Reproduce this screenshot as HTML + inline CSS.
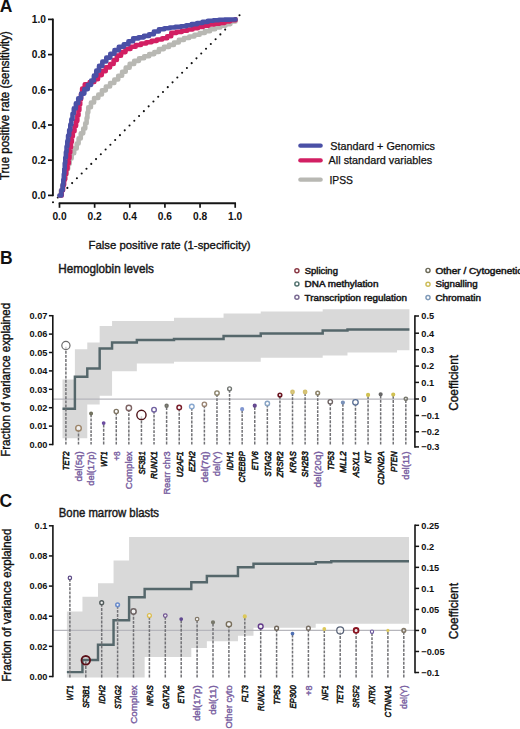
<!DOCTYPE html>
<html><head><meta charset="utf-8"><title>Figure</title>
<style>
html,body{margin:0;padding:0;background:#fff;width:520px;height:729px;overflow:hidden;}
svg{display:block;}
text{font-family:"Liberation Sans", sans-serif;}
</style></head><body>
<svg width="520" height="729" viewBox="0 0 520 729">
<rect x="0" y="0" width="520" height="729" fill="#fff"/>
<text x="-0.20" y="12.20" font-size="17.5" fill="#111" font-weight="bold">A</text>
<line x1="52.90" y1="18.60" x2="52.90" y2="196.20" stroke="#151515" stroke-width="1.9"/>
<line x1="48.00" y1="195.40" x2="52.90" y2="195.40" stroke="#151515" stroke-width="1.7"/>
<text x="45.90" y="199.10" font-size="10.2" fill="#111" font-weight="bold" text-anchor="end">0.0</text>
<line x1="48.00" y1="160.20" x2="52.90" y2="160.20" stroke="#151515" stroke-width="1.7"/>
<text x="45.90" y="163.90" font-size="10.2" fill="#111" font-weight="bold" text-anchor="end">0.2</text>
<line x1="48.00" y1="125.00" x2="52.90" y2="125.00" stroke="#151515" stroke-width="1.7"/>
<text x="45.90" y="128.70" font-size="10.2" fill="#111" font-weight="bold" text-anchor="end">0.4</text>
<line x1="48.00" y1="89.80" x2="52.90" y2="89.80" stroke="#151515" stroke-width="1.7"/>
<text x="45.90" y="93.50" font-size="10.2" fill="#111" font-weight="bold" text-anchor="end">0.6</text>
<line x1="48.00" y1="54.60" x2="52.90" y2="54.60" stroke="#151515" stroke-width="1.7"/>
<text x="45.90" y="58.30" font-size="10.2" fill="#111" font-weight="bold" text-anchor="end">0.8</text>
<line x1="48.00" y1="19.40" x2="52.90" y2="19.40" stroke="#151515" stroke-width="1.7"/>
<text x="45.90" y="23.10" font-size="10.2" fill="#111" font-weight="bold" text-anchor="end">1.0</text>
<line x1="58.70" y1="203.20" x2="236.00" y2="203.20" stroke="#151515" stroke-width="1.9"/>
<line x1="59.50" y1="203.20" x2="59.50" y2="207.80" stroke="#151515" stroke-width="1.7"/>
<text x="59.50" y="219.90" font-size="10.2" fill="#111" font-weight="bold" text-anchor="middle">0.0</text>
<line x1="94.64" y1="203.20" x2="94.64" y2="207.80" stroke="#151515" stroke-width="1.7"/>
<text x="94.64" y="219.90" font-size="10.2" fill="#111" font-weight="bold" text-anchor="middle">0.2</text>
<line x1="129.78" y1="203.20" x2="129.78" y2="207.80" stroke="#151515" stroke-width="1.7"/>
<text x="129.78" y="219.90" font-size="10.2" fill="#111" font-weight="bold" text-anchor="middle">0.4</text>
<line x1="164.92" y1="203.20" x2="164.92" y2="207.80" stroke="#151515" stroke-width="1.7"/>
<text x="164.92" y="219.90" font-size="10.2" fill="#111" font-weight="bold" text-anchor="middle">0.6</text>
<line x1="200.06" y1="203.20" x2="200.06" y2="207.80" stroke="#151515" stroke-width="1.7"/>
<text x="200.06" y="219.90" font-size="10.2" fill="#111" font-weight="bold" text-anchor="middle">0.8</text>
<line x1="235.20" y1="203.20" x2="235.20" y2="207.80" stroke="#151515" stroke-width="1.7"/>
<text x="235.20" y="219.90" font-size="10.2" fill="#111" font-weight="bold" text-anchor="middle">1.0</text>
<text x="9.00" y="105.60" font-size="12.2" fill="#111" stroke="#111" stroke-width="0.35" text-anchor="middle" textLength="149.00" lengthAdjust="spacingAndGlyphs" transform="rotate(-90 9.00 105.60)">True positive rate (sensitivity)</text>
<text x="169.60" y="248.60" font-size="11.8" fill="#111" stroke="#111" stroke-width="0.35" text-anchor="middle" textLength="162.00" lengthAdjust="spacingAndGlyphs">False positive rate (1-specificity)</text>
<line x1="53.0" y1="202.3" x2="239.6" y2="15.1" stroke="#111" stroke-width="2.1" stroke-linecap="round" stroke-dasharray="0 6.774"/>
<polyline points="59.50,195.50 60.87,195.50 60.87,190.18 62.25,190.18 62.25,184.86 63.63,184.86 63.63,179.54 65.09,179.54 65.09,174.24 66.55,174.24 66.55,168.94 68.07,168.94 68.07,163.66 69.67,163.66 69.67,158.40 71.65,158.40 71.65,153.28 74.16,153.28 74.16,148.41 76.70,148.41 76.70,143.56 78.59,143.56 78.59,138.40 80.78,138.40 80.78,133.37 83.25,133.37 83.25,128.46 85.24,128.46 85.24,123.35 86.62,123.35 86.62,118.03 87.41,118.03 87.41,112.61 88.25,112.61 88.25,107.29 90.93,107.29 90.93,102.49 94.09,102.49 94.09,98.00 98.30,98.00 98.30,94.49 101.93,94.49 101.93,90.37 105.82,90.37 105.82,86.48 110.09,86.48 110.09,83.03 114.33,83.03 114.33,79.57 118.22,79.57 118.22,75.68 122.11,75.68 122.11,71.79 125.70,71.79 125.70,67.64 129.64,67.64 129.64,63.90 134.21,63.90 134.21,60.84 139.04,60.84 139.04,58.28 144.14,58.28 144.14,56.23 149.21,56.23 149.21,54.12 154.29,54.12 154.29,52.02 158.91,52.02 158.91,49.10 163.90,49.10 163.90,46.90 169.01,46.90 169.01,44.89 173.93,44.89 173.93,42.45 178.81,42.45 178.81,39.92 183.97,39.92 183.97,38.07 189.22,38.07 189.22,36.44 194.44,36.44 194.44,34.72 199.65,34.72 199.65,32.98 204.84,32.98 204.84,31.17 210.01,31.17 210.01,29.32 215.16,29.32 215.16,27.40 220.34,27.40 220.34,25.58 225.64,25.58 225.64,24.10 230.42,24.10 230.42,21.50 235.50,21.50 235.50,19.40" fill="none" stroke="#b8b8b3" stroke-width="4.6" stroke-linejoin="round" stroke-linecap="round"/>
<polyline points="60.00,195.50 61.73,195.50 61.73,190.30 63.06,190.30 63.06,185.01 64.07,185.01 64.07,179.62 65.10,179.62 65.10,174.25 66.13,174.25 66.13,168.87 67.52,168.87 67.52,163.57 68.74,163.57 68.74,158.24 69.47,158.24 69.47,152.82 70.21,152.82 70.21,147.39 70.97,147.39 70.97,141.97 71.85,141.97 71.85,136.56 72.82,136.56 72.82,131.17 74.51,131.17 74.51,126.05 76.05,126.05 76.05,120.88 77.34,120.88 77.34,115.56 78.47,115.56 78.47,110.21 79.37,110.21 79.37,104.80 80.19,104.80 80.19,99.39 81.01,99.39 81.01,93.98 82.14,93.98 82.14,88.62 84.77,88.62 84.77,84.33 89.69,84.33 89.69,81.99 94.32,81.99 94.32,79.13 98.01,79.13 98.01,75.09 101.80,75.09 101.80,71.14 105.73,71.14 105.73,67.33 110.08,67.33 110.08,64.00 113.63,64.00 113.63,59.98 116.87,59.98 116.87,55.65 121.05,55.65 121.05,52.12 125.53,52.12 125.53,48.97 130.50,48.97 130.50,46.71 135.69,46.71 135.69,44.99 140.98,44.99 140.98,43.57 146.28,43.57 146.28,42.18 151.59,42.18 151.59,40.85 156.90,40.85 156.90,39.54 162.21,39.54 162.21,38.19 167.18,38.19 167.18,36.24 171.24,36.24 171.24,32.86 176.62,32.86 176.62,31.84 181.98,31.84 181.98,30.73 187.30,30.73 187.30,29.45 192.63,29.45 192.63,28.16 197.94,28.16 197.94,26.86 203.28,26.86 203.28,25.62 208.62,25.62 208.62,24.44 214.04,24.44 214.04,23.65 219.46,23.65 219.46,22.83 224.73,22.83 224.73,21.35 230.10,21.35 230.10,20.31 235.50,20.31 235.50,19.40" fill="none" stroke="#d21f63" stroke-width="4.6" stroke-linejoin="round" stroke-linecap="round"/>
<polyline points="59.50,195.50 61.44,195.50 61.44,190.32 62.69,190.32 62.69,184.96 63.34,184.96 63.34,179.47 63.84,179.47 63.84,173.96 64.32,173.96 64.32,168.45 64.77,168.45 64.77,162.93 65.29,162.93 65.29,157.43 65.92,157.43 65.92,151.93 66.56,151.93 66.56,146.44 67.33,146.44 67.33,140.95 68.09,140.95 68.09,135.47 69.20,135.47 69.20,130.06 70.30,130.06 70.30,124.63 71.37,124.63 71.37,119.20 72.52,119.20 72.52,113.79 73.81,113.79 73.81,108.42 75.88,108.42 75.88,103.29 78.23,103.29 78.23,98.29 81.13,98.29 81.13,93.61 84.35,93.61 84.35,89.12 87.84,89.12 87.84,84.86 91.17,84.86 91.17,80.46 93.87,80.46 93.87,75.65 96.27,75.65 96.27,70.67 99.03,70.67 99.03,65.90 102.34,65.90 102.34,61.46 106.29,61.46 106.29,57.59 110.31,57.59 110.31,53.79 114.45,53.79 114.45,50.13 118.82,50.13 118.82,46.74 123.75,46.74 123.75,44.23 128.43,44.23 128.43,41.29 133.12,41.29 133.12,38.42 138.55,38.42 138.55,37.35 143.89,37.35 143.89,35.89 149.10,35.89 149.10,34.29 153.86,34.29 153.86,31.55 158.92,31.55 158.92,29.32 164.30,29.32 164.30,28.28 169.78,28.28 169.78,27.53 175.28,27.53 175.28,26.92 180.77,26.92 180.77,26.25 186.21,26.25 186.21,25.22 191.64,25.22 191.64,24.15 197.05,24.15 197.05,23.01 202.47,23.01 202.47,21.88 207.89,21.88 207.89,20.76 213.39,20.76 213.39,20.28 218.91,20.28 218.91,19.82 224.44,19.82 224.44,19.63 229.97,19.63 229.97,19.46 235.50,19.46 235.50,19.40" fill="none" stroke="#4a50a6" stroke-width="4.6" stroke-linejoin="round" stroke-linecap="round"/>
<line x1="300.30" y1="145.70" x2="320.70" y2="145.70" stroke="#4a50a6" stroke-width="4.2" stroke-linecap="round"/>
<text x="330.30" y="149.60" font-size="11" fill="#111" stroke="#111" stroke-width="0.25" textLength="104.70" lengthAdjust="spacingAndGlyphs">Standard + Genomics</text>
<line x1="300.30" y1="160.40" x2="320.70" y2="160.40" stroke="#d21f63" stroke-width="4.2" stroke-linecap="round"/>
<text x="328.60" y="164.30" font-size="11" fill="#111" stroke="#111" stroke-width="0.25" textLength="103.60" lengthAdjust="spacingAndGlyphs">All standard variables</text>
<line x1="300.30" y1="179.70" x2="320.70" y2="179.70" stroke="#b8b8b3" stroke-width="4.2" stroke-linecap="round"/>
<text x="329.50" y="183.60" font-size="11" fill="#111" stroke="#111" stroke-width="0.25" textLength="23.50" lengthAdjust="spacingAndGlyphs">IPSS</text>
<text x="-0.10" y="264.40" font-size="17.5" fill="#111" font-weight="bold">B</text>
<text x="58.30" y="273.10" font-size="12.2" fill="#1a1a1a" stroke="#1a1a1a" stroke-width="0.45" textLength="95.60" lengthAdjust="spacingAndGlyphs">Hemoglobin levels</text>
<text x="10.30" y="379.80" font-size="12.0" fill="#111" stroke="#111" stroke-width="0.35" text-anchor="middle" textLength="154.00" lengthAdjust="spacingAndGlyphs" transform="rotate(-90 10.30 379.80)">Fraction of variance explained</text>
<circle cx="296.9" cy="270.7" r="2.05" fill="#fff" stroke="#8a3844" stroke-width="1.45"/>
<text x="304.80" y="273.80" font-size="9.4" fill="#1a1a1a" stroke="#1a1a1a" stroke-width="0.5" textLength="33.10" lengthAdjust="spacingAndGlyphs">Splicing</text>
<circle cx="296.9" cy="283.9" r="2.05" fill="#fff" stroke="#4f6f6c" stroke-width="1.45"/>
<text x="304.60" y="287.20" font-size="9.4" fill="#1a1a1a" stroke="#1a1a1a" stroke-width="0.5" textLength="73.80" lengthAdjust="spacingAndGlyphs">DNA methylation</text>
<circle cx="296.9" cy="297.2" r="2.05" fill="#fff" stroke="#7a6a92" stroke-width="1.45"/>
<text x="304.60" y="300.50" font-size="9.4" fill="#1a1a1a" stroke="#1a1a1a" stroke-width="0.5" textLength="102.30" lengthAdjust="spacingAndGlyphs">Transcription regulation</text>
<circle cx="428.0" cy="270.4" r="2.05" fill="#fff" stroke="#6c6a58" stroke-width="1.45"/>
<text x="435.40" y="273.80" font-size="9.4" fill="#1a1a1a" stroke="#1a1a1a" stroke-width="0.5" textLength="87.00" lengthAdjust="spacingAndGlyphs">Other / Cytogenetic</text>
<circle cx="428.0" cy="284.2" r="2.05" fill="#fff" stroke="#cdbd5a" stroke-width="1.45"/>
<text x="435.40" y="287.20" font-size="9.4" fill="#1a1a1a" stroke="#1a1a1a" stroke-width="0.5" textLength="42.30" lengthAdjust="spacingAndGlyphs">Signalling</text>
<circle cx="428.0" cy="297.6" r="2.05" fill="#fff" stroke="#7f9ab8" stroke-width="1.45"/>
<text x="435.40" y="300.50" font-size="9.4" fill="#1a1a1a" stroke="#1a1a1a" stroke-width="0.5" textLength="45.50" lengthAdjust="spacingAndGlyphs">Chromatin</text>
<polygon points="62.50,379.50 74.89,379.50 74.89,349.30 87.28,349.30 87.28,342.60 99.67,342.60 99.67,326.00 112.06,326.00 112.06,321.00 124.45,321.00 124.45,321.00 136.84,321.00 136.84,321.00 149.23,321.00 149.23,321.00 161.62,321.00 161.62,321.00 174.01,321.00 174.01,317.80 186.40,317.80 186.40,317.80 198.79,317.80 198.79,317.80 211.18,317.80 211.18,317.80 223.57,317.80 223.57,313.50 235.96,313.50 235.96,313.50 248.35,313.50 248.35,313.50 260.74,313.50 260.74,311.50 273.13,311.50 273.13,311.50 285.52,311.50 285.52,311.50 297.91,311.50 297.91,311.50 310.30,311.50 310.30,311.50 322.69,311.50 322.69,309.20 335.08,309.20 335.08,309.20 347.47,309.20 347.47,309.20 359.86,309.20 359.86,309.20 372.25,309.20 372.25,309.20 384.64,309.20 384.64,309.20 397.03,309.20 397.03,309.20 409.42,309.20 409.42,350.30 397.03,350.30 397.03,352.60 384.64,352.60 384.64,352.60 372.25,352.60 372.25,352.60 359.86,352.60 359.86,352.60 347.47,352.60 347.47,355.40 335.08,355.40 335.08,355.40 322.69,355.40 322.69,357.70 310.30,357.70 310.30,357.70 297.91,357.70 297.91,357.70 285.52,357.70 285.52,357.70 273.13,357.70 273.13,357.70 260.74,357.70 260.74,361.80 248.35,361.80 248.35,361.80 235.96,361.80 235.96,361.80 223.57,361.80 223.57,361.80 211.18,361.80 211.18,361.80 198.79,361.80 198.79,361.80 186.40,361.80 186.40,361.80 174.01,361.80 174.01,363.50 161.62,363.50 161.62,363.50 149.23,363.50 149.23,363.50 136.84,363.50 136.84,371.20 124.45,371.20 124.45,371.20 112.06,371.20 112.06,395.80 99.67,395.80 99.67,404.40 87.28,404.40 87.28,438.30 74.89,438.30 74.89,438.30 62.50,438.30" fill="#d9d9d9" stroke="none"/>
<line x1="52.90" y1="399.10" x2="414.90" y2="399.10" stroke="#b6b6bc" stroke-width="1.3"/>
<path d="M62.50,408.80 L74.89,408.80 L74.89,376.80 L87.28,376.80 L87.28,368.50 L99.67,368.50 L99.67,348.50 L112.06,348.50 L112.06,342.40 L136.84,342.40 L136.84,340.00 L174.01,340.00 L174.01,339.00 L223.57,339.00 L223.57,336.00 L260.74,336.00 L260.74,333.40 L322.69,333.40 L322.69,330.50 L347.47,330.50 L347.47,329.50 L409.42,329.50" fill="none" stroke="#55676b" stroke-width="2.45" stroke-linejoin="miter"/>
<line x1="48.90" y1="444.50" x2="52.80" y2="444.50" stroke="#151515" stroke-width="1.5"/>
<text x="47.40" y="447.80" font-size="9.2" fill="#111" font-weight="bold" text-anchor="end">0.00</text>
<line x1="48.90" y1="426.10" x2="52.80" y2="426.10" stroke="#151515" stroke-width="1.5"/>
<text x="47.40" y="429.40" font-size="9.2" fill="#111" font-weight="bold" text-anchor="end">0.01</text>
<line x1="48.90" y1="407.70" x2="52.80" y2="407.70" stroke="#151515" stroke-width="1.5"/>
<text x="47.40" y="411.00" font-size="9.2" fill="#111" font-weight="bold" text-anchor="end">0.02</text>
<line x1="48.90" y1="389.30" x2="52.80" y2="389.30" stroke="#151515" stroke-width="1.5"/>
<text x="47.40" y="392.60" font-size="9.2" fill="#111" font-weight="bold" text-anchor="end">0.03</text>
<line x1="48.90" y1="370.90" x2="52.80" y2="370.90" stroke="#151515" stroke-width="1.5"/>
<text x="47.40" y="374.20" font-size="9.2" fill="#111" font-weight="bold" text-anchor="end">0.04</text>
<line x1="48.90" y1="352.50" x2="52.80" y2="352.50" stroke="#151515" stroke-width="1.5"/>
<text x="47.40" y="355.80" font-size="9.2" fill="#111" font-weight="bold" text-anchor="end">0.05</text>
<line x1="48.90" y1="334.10" x2="52.80" y2="334.10" stroke="#151515" stroke-width="1.5"/>
<text x="47.40" y="337.40" font-size="9.2" fill="#111" font-weight="bold" text-anchor="end">0.06</text>
<line x1="48.90" y1="315.70" x2="52.80" y2="315.70" stroke="#151515" stroke-width="1.5"/>
<text x="47.40" y="319.00" font-size="9.2" fill="#111" font-weight="bold" text-anchor="end">0.07</text>
<line x1="52.80" y1="315.00" x2="52.80" y2="445.30" stroke="#151515" stroke-width="1.6"/>
<line x1="414.90" y1="316.00" x2="419.00" y2="316.00" stroke="#151515" stroke-width="1.5"/>
<text x="421.30" y="319.30" font-size="9.2" fill="#111" font-weight="bold">0.5</text>
<line x1="414.90" y1="333.20" x2="419.00" y2="333.20" stroke="#151515" stroke-width="1.5"/>
<text x="421.30" y="336.50" font-size="9.2" fill="#111" font-weight="bold">0.4</text>
<line x1="414.90" y1="349.70" x2="419.00" y2="349.70" stroke="#151515" stroke-width="1.5"/>
<text x="421.30" y="353.00" font-size="9.2" fill="#111" font-weight="bold">0.3</text>
<line x1="414.90" y1="366.10" x2="419.00" y2="366.10" stroke="#151515" stroke-width="1.5"/>
<text x="421.30" y="369.40" font-size="9.2" fill="#111" font-weight="bold">0.2</text>
<line x1="414.90" y1="382.40" x2="419.00" y2="382.40" stroke="#151515" stroke-width="1.5"/>
<text x="421.30" y="385.70" font-size="9.2" fill="#111" font-weight="bold">0.1</text>
<line x1="414.90" y1="399.00" x2="419.00" y2="399.00" stroke="#151515" stroke-width="1.5"/>
<text x="421.30" y="402.30" font-size="9.2" fill="#111" font-weight="bold">0</text>
<line x1="414.90" y1="415.50" x2="419.00" y2="415.50" stroke="#151515" stroke-width="1.5"/>
<text x="421.30" y="418.80" font-size="9.2" fill="#111" font-weight="bold">−0.1</text>
<line x1="414.90" y1="431.80" x2="419.00" y2="431.80" stroke="#151515" stroke-width="1.5"/>
<text x="421.30" y="435.10" font-size="9.2" fill="#111" font-weight="bold">−0.2</text>
<line x1="414.90" y1="446.90" x2="419.00" y2="446.90" stroke="#151515" stroke-width="1.5"/>
<text x="421.30" y="450.20" font-size="9.2" fill="#111" font-weight="bold">−0.3</text>
<line x1="414.90" y1="315.25" x2="414.90" y2="447.65" stroke="#151515" stroke-width="1.6"/>
<text x="458.10" y="382.85" font-size="13.2" fill="#111" stroke="#111" stroke-width="0.4" text-anchor="middle" textLength="55.90" lengthAdjust="spacingAndGlyphs" transform="rotate(-90 458.10 382.85)">Coefficient</text>
<line x1="65.90" y1="444.60" x2="65.90" y2="345.50" stroke="#727276" stroke-width="1.5" stroke-dasharray="2.89 1.24"/>
<circle cx="65.90" cy="345.50" r="4.10" fill="#ffffff" fill-opacity="0.65" stroke="#6b6b6b" stroke-width="1.2"/>
<line x1="78.49" y1="444.60" x2="78.49" y2="428.20" stroke="#727276" stroke-width="1.5" stroke-dasharray="2.87 1.23"/>
<circle cx="78.49" cy="428.20" r="2.80" fill="#ffffff" fill-opacity="0.65" stroke="#9c8468" stroke-width="1.4"/>
<line x1="91.08" y1="444.60" x2="91.08" y2="413.50" stroke="#727276" stroke-width="1.5" stroke-dasharray="2.72 1.17"/>
<circle cx="91.08" cy="413.50" r="1.20" fill="#6e6e5a" fill-opacity="0.75" stroke="#6e6e5a" stroke-width="1.6"/>
<line x1="103.67" y1="444.60" x2="103.67" y2="423.10" stroke="#727276" stroke-width="1.5" stroke-dasharray="3.01 1.29"/>
<circle cx="103.67" cy="423.10" r="1.10" fill="#6a4aa0" fill-opacity="0.75" stroke="#6a4aa0" stroke-width="1.6"/>
<line x1="116.26" y1="444.60" x2="116.26" y2="411.50" stroke="#727276" stroke-width="1.5" stroke-dasharray="2.90 1.24"/>
<circle cx="116.26" cy="411.50" r="2.10" fill="#ffffff" fill-opacity="0.65" stroke="#7e7462" stroke-width="1.4"/>
<line x1="128.85" y1="444.60" x2="128.85" y2="408.00" stroke="#727276" stroke-width="1.5" stroke-dasharray="2.85 1.22"/>
<circle cx="128.85" cy="408.00" r="2.70" fill="#ffffff" fill-opacity="0.65" stroke="#7e6464" stroke-width="1.4"/>
<line x1="141.44" y1="444.60" x2="141.44" y2="414.90" stroke="#727276" stroke-width="1.5" stroke-dasharray="2.97 1.27"/>
<circle cx="141.44" cy="414.90" r="4.60" fill="#ffffff" fill-opacity="0.65" stroke="#4e1218" stroke-width="1.4"/>
<line x1="154.03" y1="444.60" x2="154.03" y2="409.70" stroke="#727276" stroke-width="1.5" stroke-dasharray="2.71 1.16"/>
<circle cx="154.03" cy="409.70" r="2.30" fill="#ffffff" fill-opacity="0.65" stroke="#7060a0" stroke-width="1.4"/>
<line x1="166.62" y1="444.60" x2="166.62" y2="405.80" stroke="#727276" stroke-width="1.5" stroke-dasharray="3.02 1.29"/>
<circle cx="166.62" cy="405.80" r="1.40" fill="#707068" fill-opacity="0.75" stroke="#707068" stroke-width="1.6"/>
<line x1="179.21" y1="444.60" x2="179.21" y2="407.40" stroke="#727276" stroke-width="1.5" stroke-dasharray="2.89 1.24"/>
<circle cx="179.21" cy="407.40" r="2.25" fill="#ffffff" fill-opacity="0.65" stroke="#7a1f2b" stroke-width="1.5"/>
<line x1="191.80" y1="444.60" x2="191.80" y2="406.60" stroke="#727276" stroke-width="1.5" stroke-dasharray="2.96 1.27"/>
<circle cx="191.80" cy="406.60" r="2.30" fill="#ffffff" fill-opacity="0.65" stroke="#88a8d0" stroke-width="1.4"/>
<line x1="204.39" y1="444.60" x2="204.39" y2="404.30" stroke="#727276" stroke-width="1.5" stroke-dasharray="2.82 1.21"/>
<circle cx="204.39" cy="404.30" r="2.20" fill="#ffffff" fill-opacity="0.65" stroke="#9a8472" stroke-width="1.4"/>
<line x1="216.98" y1="444.60" x2="216.98" y2="393.10" stroke="#727276" stroke-width="1.5" stroke-dasharray="2.77 1.19"/>
<circle cx="216.98" cy="393.10" r="2.20" fill="#ffffff" fill-opacity="0.65" stroke="#8a826a" stroke-width="1.4"/>
<line x1="229.57" y1="444.60" x2="229.57" y2="388.80" stroke="#727276" stroke-width="1.5" stroke-dasharray="2.79 1.20"/>
<circle cx="229.57" cy="388.80" r="1.90" fill="#ffffff" fill-opacity="0.65" stroke="#707470" stroke-width="1.4"/>
<line x1="242.16" y1="444.60" x2="242.16" y2="409.20" stroke="#727276" stroke-width="1.5" stroke-dasharray="2.75 1.18"/>
<circle cx="242.16" cy="409.20" r="1.20" fill="#8096d0" fill-opacity="0.75" stroke="#8096d0" stroke-width="1.8"/>
<line x1="254.75" y1="444.60" x2="254.75" y2="405.70" stroke="#727276" stroke-width="1.5" stroke-dasharray="3.03 1.30"/>
<circle cx="254.75" cy="405.70" r="1.20" fill="#644890" fill-opacity="0.75" stroke="#644890" stroke-width="1.8"/>
<line x1="267.34" y1="444.60" x2="267.34" y2="403.50" stroke="#727276" stroke-width="1.5" stroke-dasharray="2.88 1.23"/>
<circle cx="267.34" cy="403.50" r="2.20" fill="#ffffff" fill-opacity="0.65" stroke="#88a4c4" stroke-width="1.4"/>
<line x1="279.93" y1="444.60" x2="279.93" y2="395.10" stroke="#727276" stroke-width="1.5" stroke-dasharray="2.89 1.24"/>
<circle cx="279.93" cy="395.10" r="1.80" fill="#ffffff" fill-opacity="0.65" stroke="#6a1420" stroke-width="1.6"/>
<line x1="292.52" y1="444.60" x2="292.52" y2="392.00" stroke="#727276" stroke-width="1.5" stroke-dasharray="2.83 1.21"/>
<circle cx="292.52" cy="392.00" r="1.50" fill="#d4c070" fill-opacity="0.75" stroke="#d4c070" stroke-width="1.8"/>
<line x1="305.11" y1="444.60" x2="305.11" y2="392.00" stroke="#727276" stroke-width="1.5" stroke-dasharray="2.83 1.21"/>
<circle cx="305.11" cy="392.00" r="1.50" fill="#d4c070" fill-opacity="0.75" stroke="#d4c070" stroke-width="1.8"/>
<line x1="317.70" y1="444.60" x2="317.70" y2="393.10" stroke="#727276" stroke-width="1.5" stroke-dasharray="2.77 1.19"/>
<circle cx="317.70" cy="393.10" r="1.85" fill="#ffffff" fill-opacity="0.65" stroke="#8c8268" stroke-width="1.5"/>
<line x1="330.29" y1="444.60" x2="330.29" y2="401.80" stroke="#727276" stroke-width="1.5" stroke-dasharray="3.00 1.28"/>
<circle cx="330.29" cy="401.80" r="2.20" fill="#ffffff" fill-opacity="0.65" stroke="#6e6464" stroke-width="1.4"/>
<line x1="342.88" y1="444.60" x2="342.88" y2="402.60" stroke="#727276" stroke-width="1.5" stroke-dasharray="2.94 1.26"/>
<circle cx="342.88" cy="402.60" r="1.20" fill="#7890b8" fill-opacity="0.75" stroke="#7890b8" stroke-width="1.8"/>
<line x1="355.47" y1="444.60" x2="355.47" y2="402.30" stroke="#727276" stroke-width="1.5" stroke-dasharray="2.96 1.27"/>
<circle cx="355.47" cy="402.30" r="2.75" fill="#ffffff" fill-opacity="0.65" stroke="#5a7096" stroke-width="1.3"/>
<line x1="368.06" y1="444.60" x2="368.06" y2="394.90" stroke="#727276" stroke-width="1.5" stroke-dasharray="2.90 1.24"/>
<circle cx="368.06" cy="394.90" r="1.20" fill="#d0c050" fill-opacity="0.75" stroke="#d0c050" stroke-width="1.8"/>
<line x1="380.65" y1="444.60" x2="380.65" y2="394.30" stroke="#727276" stroke-width="1.5" stroke-dasharray="2.93 1.26"/>
<circle cx="380.65" cy="394.30" r="1.20" fill="#666666" fill-opacity="0.75" stroke="#666666" stroke-width="1.8"/>
<line x1="393.24" y1="444.60" x2="393.24" y2="394.60" stroke="#727276" stroke-width="1.5" stroke-dasharray="2.92 1.25"/>
<circle cx="393.24" cy="394.60" r="1.20" fill="#d0c050" fill-opacity="0.75" stroke="#d0c050" stroke-width="1.8"/>
<line x1="405.83" y1="444.60" x2="405.83" y2="398.80" stroke="#727276" stroke-width="1.5" stroke-dasharray="2.91 1.25"/>
<circle cx="405.83" cy="398.80" r="1.60" fill="#ffffff" fill-opacity="0.65" stroke="#78786e" stroke-width="1.6"/>
<text x="69.20" y="451.30" font-size="9.0" fill="#161616" stroke="#161616" stroke-width="0.55" font-style="italic" text-anchor="end" textLength="19.00" lengthAdjust="spacingAndGlyphs" transform="rotate(-90 69.20 451.30)">TET2</text>
<text x="81.79" y="451.30" font-size="9.0" fill="#7a5fa2" stroke="#7a5fa2" stroke-width="0.4" text-anchor="end" textLength="30.20" lengthAdjust="spacingAndGlyphs" transform="rotate(-90 81.79 451.30)">del(5q)</text>
<text x="94.38" y="451.30" font-size="9.0" fill="#7a5fa2" stroke="#7a5fa2" stroke-width="0.4" text-anchor="end" textLength="34.50" lengthAdjust="spacingAndGlyphs" transform="rotate(-90 94.38 451.30)">del(17p)</text>
<text x="106.97" y="451.30" font-size="9.0" fill="#161616" stroke="#161616" stroke-width="0.55" font-style="italic" text-anchor="end" textLength="15.60" lengthAdjust="spacingAndGlyphs" transform="rotate(-90 106.97 451.30)">WT1</text>
<text x="119.56" y="451.30" font-size="9.0" fill="#7a5fa2" stroke="#7a5fa2" stroke-width="0.4" text-anchor="end" textLength="9.50" lengthAdjust="spacingAndGlyphs" transform="rotate(-90 119.56 451.30)">+8</text>
<text x="132.15" y="451.30" font-size="9.0" fill="#7a5fa2" stroke="#7a5fa2" stroke-width="0.4" text-anchor="end" textLength="38.00" lengthAdjust="spacingAndGlyphs" transform="rotate(-90 132.15 451.30)">Complex</text>
<text x="144.74" y="451.30" font-size="9.0" fill="#161616" stroke="#161616" stroke-width="0.55" font-style="italic" text-anchor="end" textLength="23.30" lengthAdjust="spacingAndGlyphs" transform="rotate(-90 144.74 451.30)">SF3B1</text>
<text x="157.33" y="451.30" font-size="9.0" fill="#161616" stroke="#161616" stroke-width="0.55" font-style="italic" text-anchor="end" textLength="27.70" lengthAdjust="spacingAndGlyphs" transform="rotate(-90 157.33 451.30)">RUNX1</text>
<text x="169.92" y="451.30" font-size="9.0" fill="#7a5fa2" stroke="#7a5fa2" stroke-width="0.4" text-anchor="end" textLength="43.20" lengthAdjust="spacingAndGlyphs" transform="rotate(-90 169.92 451.30)">Rearr chr3</text>
<text x="182.51" y="451.30" font-size="9.0" fill="#161616" stroke="#161616" stroke-width="0.55" font-style="italic" text-anchor="end" textLength="25.90" lengthAdjust="spacingAndGlyphs" transform="rotate(-90 182.51 451.30)">U2AF1</text>
<text x="195.10" y="451.30" font-size="9.0" fill="#161616" stroke="#161616" stroke-width="0.55" font-style="italic" text-anchor="end" textLength="20.80" lengthAdjust="spacingAndGlyphs" transform="rotate(-90 195.10 451.30)">EZH2</text>
<text x="207.69" y="451.30" font-size="9.0" fill="#7a5fa2" stroke="#7a5fa2" stroke-width="0.4" text-anchor="end" textLength="31.10" lengthAdjust="spacingAndGlyphs" transform="rotate(-90 207.69 451.30)">del(7q)</text>
<text x="220.28" y="451.30" font-size="9.0" fill="#7a5fa2" stroke="#7a5fa2" stroke-width="0.4" text-anchor="end" textLength="25.00" lengthAdjust="spacingAndGlyphs" transform="rotate(-90 220.28 451.30)">del(Y)</text>
<text x="232.87" y="451.30" font-size="9.0" fill="#161616" stroke="#161616" stroke-width="0.55" font-style="italic" text-anchor="end" textLength="19.00" lengthAdjust="spacingAndGlyphs" transform="rotate(-90 232.87 451.30)">IDH1</text>
<text x="245.46" y="451.30" font-size="9.0" fill="#161616" stroke="#161616" stroke-width="0.55" font-style="italic" text-anchor="end" textLength="31.10" lengthAdjust="spacingAndGlyphs" transform="rotate(-90 245.46 451.30)">CREBBP</text>
<text x="258.05" y="451.30" font-size="9.0" fill="#161616" stroke="#161616" stroke-width="0.55" font-style="italic" text-anchor="end" textLength="19.00" lengthAdjust="spacingAndGlyphs" transform="rotate(-90 258.05 451.30)">ETV6</text>
<text x="270.64" y="451.30" font-size="9.0" fill="#161616" stroke="#161616" stroke-width="0.55" font-style="italic" text-anchor="end" textLength="25.10" lengthAdjust="spacingAndGlyphs" transform="rotate(-90 270.64 451.30)">STAG2</text>
<text x="283.23" y="451.30" font-size="9.0" fill="#161616" stroke="#161616" stroke-width="0.55" font-style="italic" text-anchor="end" textLength="25.90" lengthAdjust="spacingAndGlyphs" transform="rotate(-90 283.23 451.30)">ZRSR2</text>
<text x="295.82" y="451.30" font-size="9.0" fill="#161616" stroke="#161616" stroke-width="0.55" font-style="italic" text-anchor="end" textLength="21.60" lengthAdjust="spacingAndGlyphs" transform="rotate(-90 295.82 451.30)">KRAS</text>
<text x="308.41" y="451.30" font-size="9.0" fill="#161616" stroke="#161616" stroke-width="0.55" font-style="italic" text-anchor="end" textLength="25.90" lengthAdjust="spacingAndGlyphs" transform="rotate(-90 308.41 451.30)">SH2B3</text>
<text x="321.00" y="451.30" font-size="9.0" fill="#7a5fa2" stroke="#7a5fa2" stroke-width="0.4" text-anchor="end" textLength="36.30" lengthAdjust="spacingAndGlyphs" transform="rotate(-90 321.00 451.30)">del(20q)</text>
<text x="333.59" y="451.30" font-size="9.0" fill="#161616" stroke="#161616" stroke-width="0.55" font-style="italic" text-anchor="end" textLength="19.00" lengthAdjust="spacingAndGlyphs" transform="rotate(-90 333.59 451.30)">TP53</text>
<text x="346.18" y="451.30" font-size="9.0" fill="#161616" stroke="#161616" stroke-width="0.55" font-style="italic" text-anchor="end" textLength="21.60" lengthAdjust="spacingAndGlyphs" transform="rotate(-90 346.18 451.30)">MLL2</text>
<text x="358.77" y="451.30" font-size="9.0" fill="#161616" stroke="#161616" stroke-width="0.55" font-style="italic" text-anchor="end" textLength="25.90" lengthAdjust="spacingAndGlyphs" transform="rotate(-90 358.77 451.30)">ASXL1</text>
<text x="371.36" y="451.30" font-size="9.0" fill="#161616" stroke="#161616" stroke-width="0.55" font-style="italic" text-anchor="end" textLength="12.10" lengthAdjust="spacingAndGlyphs" transform="rotate(-90 371.36 451.30)">KIT</text>
<text x="383.95" y="451.30" font-size="9.0" fill="#161616" stroke="#161616" stroke-width="0.55" font-style="italic" text-anchor="end" textLength="33.70" lengthAdjust="spacingAndGlyphs" transform="rotate(-90 383.95 451.30)">CDKN2A</text>
<text x="396.54" y="451.30" font-size="9.0" fill="#161616" stroke="#161616" stroke-width="0.55" font-style="italic" text-anchor="end" textLength="20.80" lengthAdjust="spacingAndGlyphs" transform="rotate(-90 396.54 451.30)">PTEN</text>
<text x="409.13" y="451.30" font-size="9.0" fill="#7a5fa2" stroke="#7a5fa2" stroke-width="0.4" text-anchor="end" textLength="28.50" lengthAdjust="spacingAndGlyphs" transform="rotate(-90 409.13 451.30)">del(11)</text>
<text x="-0.60" y="506.70" font-size="17.5" fill="#111" font-weight="bold">C</text>
<text x="58.80" y="516.90" font-size="12.2" fill="#1a1a1a" stroke="#1a1a1a" stroke-width="0.45" textLength="100.20" lengthAdjust="spacingAndGlyphs">Bone marrow blasts</text>
<text x="10.60" y="605.20" font-size="12.0" fill="#111" stroke="#111" stroke-width="0.35" text-anchor="middle" textLength="153.00" lengthAdjust="spacingAndGlyphs" transform="rotate(-90 10.60 605.20)">Fraction of variance explained</text>
<polygon points="66.90,611.50 82.45,611.50 82.45,596.70 98.00,596.70 98.00,583.30 113.55,583.30 113.55,560.40 129.10,560.40 129.10,537.00 144.65,537.00 144.65,537.00 160.20,537.00 160.20,537.00 175.75,537.00 175.75,537.00 191.30,537.00 191.30,537.00 206.85,537.00 206.85,537.00 222.40,537.00 222.40,537.00 237.95,537.00 237.95,537.00 253.50,537.00 253.50,537.00 269.05,537.00 269.05,537.00 284.60,537.00 284.60,537.00 300.15,537.00 300.15,537.00 315.70,537.00 315.70,537.00 331.25,537.00 331.25,537.00 346.80,537.00 346.80,537.00 362.35,537.00 362.35,537.00 377.90,537.00 377.90,537.00 393.45,537.00 393.45,537.00 409.00,537.00 409.00,623.70 393.45,623.70 393.45,623.70 377.90,623.70 377.90,623.70 362.35,623.70 362.35,623.70 346.80,623.70 346.80,623.70 331.25,623.70 331.25,623.70 315.70,623.70 315.70,627.80 300.15,627.80 300.15,627.80 284.60,627.80 284.60,627.80 269.05,627.80 269.05,627.80 253.50,627.80 253.50,635.70 237.95,635.70 237.95,641.30 222.40,641.30 222.40,641.30 206.85,641.30 206.85,648.00 191.30,648.00 191.30,657.00 175.75,657.00 175.75,657.00 160.20,657.00 160.20,657.00 144.65,657.00 144.65,677.50 129.10,677.50 129.10,677.50 113.55,677.50 113.55,677.50 98.00,677.50 98.00,677.50 82.45,677.50 82.45,677.50 66.90,677.50" fill="#d9d9d9" stroke="none"/>
<line x1="52.90" y1="630.40" x2="415.00" y2="630.40" stroke="#b6b6bc" stroke-width="1.3"/>
<path d="M66.90,672.10 L82.45,672.10 L82.45,660.00 L98.00,660.00 L98.00,644.70 L113.55,644.70 L113.55,620.20 L129.10,620.20 L129.10,597.30 L144.65,597.30 L144.65,589.00 L191.30,589.00 L191.30,582.30 L206.85,582.30 L206.85,576.00 L237.95,576.00 L237.95,567.30 L253.50,567.30 L253.50,563.80 L315.70,563.80 L315.70,562.30 L331.25,562.30 L331.25,561.30 L409.00,561.30" fill="none" stroke="#55676b" stroke-width="2.45" stroke-linejoin="miter"/>
<line x1="48.90" y1="676.50" x2="52.90" y2="676.50" stroke="#151515" stroke-width="1.5"/>
<text x="47.40" y="679.80" font-size="9.2" fill="#111" font-weight="bold" text-anchor="end">0.00</text>
<line x1="48.90" y1="646.36" x2="52.90" y2="646.36" stroke="#151515" stroke-width="1.5"/>
<text x="47.40" y="649.66" font-size="9.2" fill="#111" font-weight="bold" text-anchor="end">0.02</text>
<line x1="48.90" y1="616.22" x2="52.90" y2="616.22" stroke="#151515" stroke-width="1.5"/>
<text x="47.40" y="619.52" font-size="9.2" fill="#111" font-weight="bold" text-anchor="end">0.04</text>
<line x1="48.90" y1="586.08" x2="52.90" y2="586.08" stroke="#151515" stroke-width="1.5"/>
<text x="47.40" y="589.38" font-size="9.2" fill="#111" font-weight="bold" text-anchor="end">0.06</text>
<line x1="48.90" y1="555.94" x2="52.90" y2="555.94" stroke="#151515" stroke-width="1.5"/>
<text x="47.40" y="559.24" font-size="9.2" fill="#111" font-weight="bold" text-anchor="end">0.08</text>
<line x1="48.90" y1="525.80" x2="52.90" y2="525.80" stroke="#151515" stroke-width="1.5"/>
<text x="47.40" y="529.10" font-size="9.2" fill="#111" font-weight="bold" text-anchor="end">0.1</text>
<line x1="52.90" y1="525.00" x2="52.90" y2="677.20" stroke="#151515" stroke-width="1.6"/>
<line x1="415.00" y1="525.30" x2="419.10" y2="525.30" stroke="#151515" stroke-width="1.5"/>
<text x="421.30" y="528.60" font-size="9.2" fill="#111" font-weight="bold">0.25</text>
<line x1="415.00" y1="546.33" x2="419.10" y2="546.33" stroke="#151515" stroke-width="1.5"/>
<text x="421.30" y="549.63" font-size="9.2" fill="#111" font-weight="bold">0.2</text>
<line x1="415.00" y1="567.36" x2="419.10" y2="567.36" stroke="#151515" stroke-width="1.5"/>
<text x="421.30" y="570.66" font-size="9.2" fill="#111" font-weight="bold">0.15</text>
<line x1="415.00" y1="588.39" x2="419.10" y2="588.39" stroke="#151515" stroke-width="1.5"/>
<text x="421.30" y="591.69" font-size="9.2" fill="#111" font-weight="bold">0.1</text>
<line x1="415.00" y1="609.42" x2="419.10" y2="609.42" stroke="#151515" stroke-width="1.5"/>
<text x="421.30" y="612.72" font-size="9.2" fill="#111" font-weight="bold">0.05</text>
<line x1="415.00" y1="630.45" x2="419.10" y2="630.45" stroke="#151515" stroke-width="1.5"/>
<text x="421.30" y="633.75" font-size="9.2" fill="#111" font-weight="bold">0</text>
<line x1="415.00" y1="651.48" x2="419.10" y2="651.48" stroke="#151515" stroke-width="1.5"/>
<text x="421.30" y="654.78" font-size="9.2" fill="#111" font-weight="bold">−0.05</text>
<line x1="415.00" y1="672.51" x2="419.10" y2="672.51" stroke="#151515" stroke-width="1.5"/>
<text x="421.30" y="675.81" font-size="9.2" fill="#111" font-weight="bold">−0.1</text>
<line x1="415.00" y1="524.50" x2="415.00" y2="673.30" stroke="#151515" stroke-width="1.6"/>
<text x="458.10" y="611.05" font-size="13.2" fill="#111" stroke="#111" stroke-width="0.4" text-anchor="middle" textLength="56.20" lengthAdjust="spacingAndGlyphs" transform="rotate(-90 458.10 611.05)">Coefficient</text>
<line x1="69.90" y1="677.50" x2="69.90" y2="577.90" stroke="#727276" stroke-width="1.5" stroke-dasharray="2.91 1.25"/>
<circle cx="69.90" cy="577.90" r="1.70" fill="#ffffff" fill-opacity="0.65" stroke="#5c4a86" stroke-width="1.2"/>
<line x1="85.80" y1="677.50" x2="85.80" y2="660.30" stroke="#727276" stroke-width="1.5" stroke-dasharray="3.01 1.29"/>
<circle cx="85.80" cy="660.30" r="4.30" fill="#ffffff" fill-opacity="0.0" stroke="#5a1018" stroke-width="1.8"/>
<line x1="101.70" y1="677.50" x2="101.70" y2="602.70" stroke="#727276" stroke-width="1.5" stroke-dasharray="2.91 1.25"/>
<circle cx="101.70" cy="602.70" r="1.90" fill="#ffffff" fill-opacity="0.65" stroke="#505a5a" stroke-width="1.4"/>
<line x1="117.60" y1="677.50" x2="117.60" y2="604.80" stroke="#727276" stroke-width="1.5" stroke-dasharray="2.83 1.21"/>
<circle cx="117.60" cy="604.80" r="1.85" fill="#ffffff" fill-opacity="0.65" stroke="#6a8ccc" stroke-width="1.5"/>
<line x1="133.50" y1="677.50" x2="133.50" y2="611.50" stroke="#727276" stroke-width="1.5" stroke-dasharray="2.89 1.24"/>
<circle cx="133.50" cy="611.50" r="2.65" fill="#ffffff" fill-opacity="0.65" stroke="#6e6464" stroke-width="1.5"/>
<line x1="149.40" y1="677.50" x2="149.40" y2="615.60" stroke="#727276" stroke-width="1.5" stroke-dasharray="2.89 1.24"/>
<circle cx="149.40" cy="615.60" r="1.95" fill="#ffffff" fill-opacity="0.65" stroke="#dcbe50" stroke-width="1.3"/>
<line x1="165.30" y1="677.50" x2="165.30" y2="615.60" stroke="#727276" stroke-width="1.5" stroke-dasharray="2.89 1.24"/>
<circle cx="165.30" cy="615.60" r="1.80" fill="#ffffff" fill-opacity="0.65" stroke="#6e5090" stroke-width="1.2"/>
<line x1="181.20" y1="677.50" x2="181.20" y2="619.10" stroke="#727276" stroke-width="1.5" stroke-dasharray="2.92 1.25"/>
<circle cx="181.20" cy="619.10" r="0.95" fill="#604890" fill-opacity="0.75" stroke="#604890" stroke-width="1.9"/>
<line x1="197.10" y1="677.50" x2="197.10" y2="619.10" stroke="#727276" stroke-width="1.5" stroke-dasharray="2.92 1.25"/>
<circle cx="197.10" cy="619.10" r="1.80" fill="#ffffff" fill-opacity="0.65" stroke="#827868" stroke-width="1.2"/>
<line x1="213.00" y1="677.50" x2="213.00" y2="622.30" stroke="#727276" stroke-width="1.5" stroke-dasharray="2.97 1.27"/>
<circle cx="213.00" cy="622.30" r="1.20" fill="#78786a" fill-opacity="0.75" stroke="#78786a" stroke-width="1.8"/>
<line x1="228.90" y1="677.50" x2="228.90" y2="624.20" stroke="#727276" stroke-width="1.5" stroke-dasharray="2.87 1.23"/>
<circle cx="228.90" cy="624.20" r="2.60" fill="#ffffff" fill-opacity="0.65" stroke="#786e5a" stroke-width="1.4"/>
<line x1="244.80" y1="677.50" x2="244.80" y2="616.40" stroke="#727276" stroke-width="1.5" stroke-dasharray="2.85 1.22"/>
<circle cx="244.80" cy="616.40" r="1.15" fill="#dcc85a" fill-opacity="0.75" stroke="#dcc85a" stroke-width="1.9"/>
<line x1="260.70" y1="677.50" x2="260.70" y2="626.40" stroke="#727276" stroke-width="1.5" stroke-dasharray="2.98 1.28"/>
<circle cx="260.70" cy="626.40" r="2.40" fill="#ffffff" fill-opacity="0.65" stroke="#643c8c" stroke-width="1.4"/>
<line x1="276.60" y1="677.50" x2="276.60" y2="628.20" stroke="#727276" stroke-width="1.5" stroke-dasharray="2.88 1.23"/>
<circle cx="276.60" cy="628.20" r="1.90" fill="#ffffff" fill-opacity="0.65" stroke="#6e6458" stroke-width="1.4"/>
<line x1="292.50" y1="677.50" x2="292.50" y2="633.60" stroke="#727276" stroke-width="1.5" stroke-dasharray="2.79 1.20"/>
<circle cx="292.50" cy="633.60" r="0.95" fill="#5070b4" fill-opacity="0.75" stroke="#5070b4" stroke-width="1.9"/>
<line x1="308.40" y1="677.50" x2="308.40" y2="628.20" stroke="#727276" stroke-width="1.5" stroke-dasharray="2.88 1.23"/>
<circle cx="308.40" cy="628.20" r="1.90" fill="#ffffff" fill-opacity="0.65" stroke="#786e64" stroke-width="1.4"/>
<line x1="324.30" y1="677.50" x2="324.30" y2="629.00" stroke="#727276" stroke-width="1.5" stroke-dasharray="2.83 1.21"/>
<circle cx="324.30" cy="629.00" r="1.00" fill="#dcc85a" fill-opacity="0.75" stroke="#dcc85a" stroke-width="1.8"/>
<line x1="340.20" y1="677.50" x2="340.20" y2="630.40" stroke="#727276" stroke-width="1.5" stroke-dasharray="3.00 1.28"/>
<circle cx="340.20" cy="630.40" r="3.45" fill="#ffffff" fill-opacity="0.65" stroke="#5a6478" stroke-width="1.3"/>
<line x1="356.10" y1="677.50" x2="356.10" y2="630.40" stroke="#727276" stroke-width="1.5" stroke-dasharray="3.00 1.28"/>
<circle cx="356.10" cy="630.40" r="2.40" fill="#ffffff" fill-opacity="0.65" stroke="#8a1420" stroke-width="1.8"/>
<line x1="372.00" y1="677.50" x2="372.00" y2="631.70" stroke="#727276" stroke-width="1.5" stroke-dasharray="2.91 1.25"/>
<circle cx="372.00" cy="631.70" r="1.65" fill="#ffffff" fill-opacity="0.65" stroke="#6e5aa0" stroke-width="1.1"/>
<line x1="387.90" y1="677.50" x2="387.90" y2="630.40" stroke="#727276" stroke-width="1.5" stroke-dasharray="3.00 1.28"/>
<circle cx="387.90" cy="630.40" r="0.80" fill="#dcc85a" fill-opacity="0.75" stroke="#dcc85a" stroke-width="1.6"/>
<line x1="403.80" y1="677.50" x2="403.80" y2="630.40" stroke="#727276" stroke-width="1.5" stroke-dasharray="3.00 1.28"/>
<circle cx="403.80" cy="630.40" r="1.80" fill="#ffffff" fill-opacity="0.65" stroke="#827868" stroke-width="1.6"/>
<text x="73.20" y="685.30" font-size="9.0" fill="#161616" stroke="#161616" stroke-width="0.55" font-style="italic" text-anchor="end" textLength="15.20" lengthAdjust="spacingAndGlyphs" transform="rotate(-90 73.20 685.30)">WT1</text>
<text x="89.10" y="685.30" font-size="9.0" fill="#161616" stroke="#161616" stroke-width="0.55" font-style="italic" text-anchor="end" textLength="22.80" lengthAdjust="spacingAndGlyphs" transform="rotate(-90 89.10 685.30)">SF3B1</text>
<text x="105.00" y="685.30" font-size="9.0" fill="#161616" stroke="#161616" stroke-width="0.55" font-style="italic" text-anchor="end" textLength="18.50" lengthAdjust="spacingAndGlyphs" transform="rotate(-90 105.00 685.30)">IDH2</text>
<text x="120.90" y="685.30" font-size="9.0" fill="#161616" stroke="#161616" stroke-width="0.55" font-style="italic" text-anchor="end" textLength="23.80" lengthAdjust="spacingAndGlyphs" transform="rotate(-90 120.90 685.30)">STAG2</text>
<text x="136.80" y="685.30" font-size="9.0" fill="#7a5fa2" stroke="#7a5fa2" stroke-width="0.4" text-anchor="end" textLength="38.40" lengthAdjust="spacingAndGlyphs" transform="rotate(-90 136.80 685.30)">Complex</text>
<text x="152.70" y="685.30" font-size="9.0" fill="#161616" stroke="#161616" stroke-width="0.55" font-style="italic" text-anchor="end" textLength="20.80" lengthAdjust="spacingAndGlyphs" transform="rotate(-90 152.70 685.30)">NRAS</text>
<text x="168.60" y="685.30" font-size="9.0" fill="#161616" stroke="#161616" stroke-width="0.55" font-style="italic" text-anchor="end" textLength="23.80" lengthAdjust="spacingAndGlyphs" transform="rotate(-90 168.60 685.30)">GATA2</text>
<text x="184.50" y="685.30" font-size="9.0" fill="#161616" stroke="#161616" stroke-width="0.55" font-style="italic" text-anchor="end" textLength="18.30" lengthAdjust="spacingAndGlyphs" transform="rotate(-90 184.50 685.30)">ETV6</text>
<text x="200.40" y="685.30" font-size="9.0" fill="#7a5fa2" stroke="#7a5fa2" stroke-width="0.4" text-anchor="end" textLength="35.80" lengthAdjust="spacingAndGlyphs" transform="rotate(-90 200.40 685.30)">del(17p)</text>
<text x="216.30" y="685.30" font-size="9.0" fill="#7a5fa2" stroke="#7a5fa2" stroke-width="0.4" text-anchor="end" textLength="29.55" lengthAdjust="spacingAndGlyphs" transform="rotate(-90 216.30 685.30)">del(11)</text>
<text x="232.20" y="685.30" font-size="9.0" fill="#7a5fa2" stroke="#7a5fa2" stroke-width="0.4" text-anchor="end" textLength="43.30" lengthAdjust="spacingAndGlyphs" transform="rotate(-90 232.20 685.30)">Other cyto</text>
<text x="248.10" y="685.30" font-size="9.0" fill="#161616" stroke="#161616" stroke-width="0.55" font-style="italic" text-anchor="end" textLength="17.05" lengthAdjust="spacingAndGlyphs" transform="rotate(-90 248.10 685.30)">FLT3</text>
<text x="264.00" y="685.30" font-size="9.0" fill="#161616" stroke="#161616" stroke-width="0.55" font-style="italic" text-anchor="end" textLength="25.80" lengthAdjust="spacingAndGlyphs" transform="rotate(-90 264.00 685.30)">RUNX1</text>
<text x="279.90" y="685.30" font-size="9.0" fill="#161616" stroke="#161616" stroke-width="0.55" font-style="italic" text-anchor="end" textLength="19.55" lengthAdjust="spacingAndGlyphs" transform="rotate(-90 279.90 685.30)">TP53</text>
<text x="295.80" y="685.30" font-size="9.0" fill="#161616" stroke="#161616" stroke-width="0.55" font-style="italic" text-anchor="end" textLength="23.30" lengthAdjust="spacingAndGlyphs" transform="rotate(-90 295.80 685.30)">EP300</text>
<text x="311.70" y="685.30" font-size="9.0" fill="#7a5fa2" stroke="#7a5fa2" stroke-width="0.4" text-anchor="end" textLength="10.40" lengthAdjust="spacingAndGlyphs" transform="rotate(-90 311.70 685.30)">+8</text>
<text x="327.60" y="685.30" font-size="9.0" fill="#161616" stroke="#161616" stroke-width="0.55" font-style="italic" text-anchor="end" textLength="15.20" lengthAdjust="spacingAndGlyphs" transform="rotate(-90 327.60 685.30)">NF1</text>
<text x="343.50" y="685.30" font-size="9.0" fill="#161616" stroke="#161616" stroke-width="0.55" font-style="italic" text-anchor="end" textLength="18.80" lengthAdjust="spacingAndGlyphs" transform="rotate(-90 343.50 685.30)">TET2</text>
<text x="359.40" y="685.30" font-size="9.0" fill="#161616" stroke="#161616" stroke-width="0.55" font-style="italic" text-anchor="end" textLength="22.40" lengthAdjust="spacingAndGlyphs" transform="rotate(-90 359.40 685.30)">SRSF2</text>
<text x="375.30" y="685.30" font-size="9.0" fill="#161616" stroke="#161616" stroke-width="0.55" font-style="italic" text-anchor="end" textLength="18.80" lengthAdjust="spacingAndGlyphs" transform="rotate(-90 375.30 685.30)">ATRX</text>
<text x="391.20" y="685.30" font-size="9.0" fill="#161616" stroke="#161616" stroke-width="0.55" font-style="italic" text-anchor="end" textLength="32.10" lengthAdjust="spacingAndGlyphs" transform="rotate(-90 391.20 685.30)">CTNNA1</text>
<text x="407.10" y="685.30" font-size="9.0" fill="#7a5fa2" stroke="#7a5fa2" stroke-width="0.4" text-anchor="end" textLength="23.60" lengthAdjust="spacingAndGlyphs" transform="rotate(-90 407.10 685.30)">del(Y)</text>
</svg>
</body></html>
